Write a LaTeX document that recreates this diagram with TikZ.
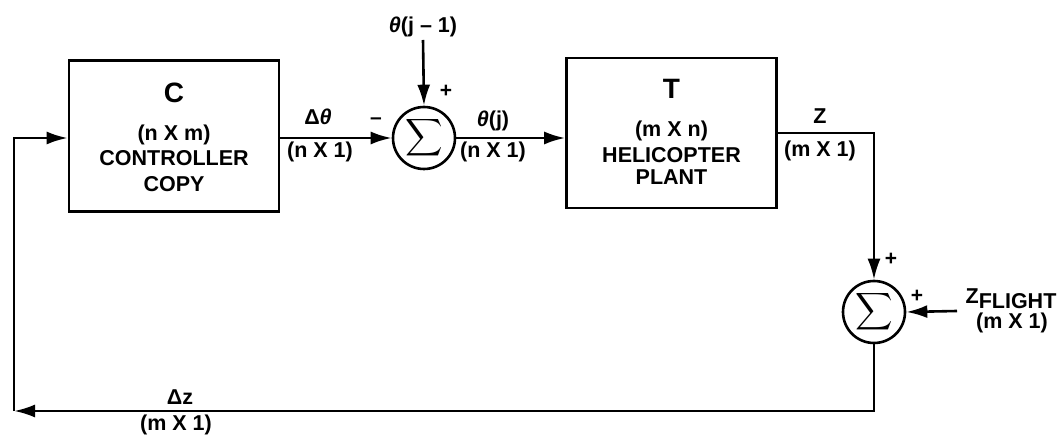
\documentclass[tikz,border=0pt]{standalone}
\usepackage{fontspec}
\setmainfont{Liberation Sans}
\usetikzlibrary{arrows.meta}
\begin{document}
\begin{tikzpicture}[x=1pt,y=-1pt,
  lw/.style={line width=2.6pt},
  block/.style={draw,lw,minimum width=210pt,minimum height=151pt,inner sep=0pt},
  sumnode/.style={draw,lw,circle,minimum size=62pt,inner sep=0pt},
  lbl/.style={font=\fontsize{21.5}{21.5}\selectfont\bfseries,inner sep=0pt},
  big/.style={font=\fontsize{28}{28}\selectfont\bfseries,inner sep=0pt},
  sgn/.style={font=\fontsize{21}{21}\selectfont\bfseries,inner sep=0pt},
  arr/.style={lw,-{Latex[length=21pt,width=13pt]}},
  ln/.style={lw}]
\useasboundingbox (0,0) rectangle (1062,435);
% blocks
\node[block] (C) at (174,136) {};
\node[big] (Ct) at (174,93) {C};
\node[lbl] (C1) at (174,135) {(n X m)};
\node[lbl] (C2) at (174,158) {CONTROLLER};
\node[lbl] (C3) at (174,184) {COPY};
\node[block,minimum height=150pt] (T) at (671.5,133) {};
\node[big] (Tt) at (671.5,89) {T};
\node[lbl] (T1) at (671.5,131) {(m X n)};
\node[lbl] (T2) at (671.5,155) {HELICOPTER};
\node[lbl] (T3) at (671.5,177) {PLANT};
% summing junctions
\node[sumnode] (S1) at (424,138) {\scalebox{2.6}{$\displaystyle\sum$}};
\node[sumnode] (S2) at (874,312) {\scalebox{2.6}{$\displaystyle\sum$}};
% inputs
\node[lbl] (thj1) at (423,27) {\itshape θ\upshape(j – 1)};
\coordinate (thj1b) at (423,40);
\node[lbl] (zf) at (1011,299) {Z\raisebox{-5pt}{FLIGHT}};
\node[lbl] (zf2) at (1012,323) {(m X 1)};
\coordinate (zfa) at (957,311);
\coordinate (BL) at (14,411);
% connectors
\draw[arr] (C.east |- S1.west) -- (S1.west);
\draw[arr] (thj1b) -- (S1.north);
\draw[arr] (S1.east) -- (T.west |- S1.east);
\draw[arr] (T.east) -| (S2.north);
\draw[arr] (zfa) -- (S2.east);
\draw[arr] (S2.south) |- (BL);
\draw[arr] (BL) |- (C.west |- S1.west);
% labels
\node[lbl] (l1) at (318,117) {Δ\itshape θ};
\node[lbl] (l2) at (320,152) {(n X 1)};
\node[sgn] (m1) at (376,121) {–};
\node[sgn] (p1) at (446,91) {+};
\node[lbl] (l3) at (493,121) {\itshape θ\upshape(j)};
\node[lbl] (l4) at (493,152) {(n X 1)};
\node[lbl] (l5) at (820,116) {Z};
\node[lbl] (l6) at (820,151) {(m X 1)};
\node[sgn] (p2) at (891,259) {+};
\node[sgn] (p3) at (917,296) {+};
\node[lbl] (l7) at (180,397) {Δz};
\node[lbl] (l8) at (176,425) {(m X 1)};
\end{tikzpicture}
\end{document}
